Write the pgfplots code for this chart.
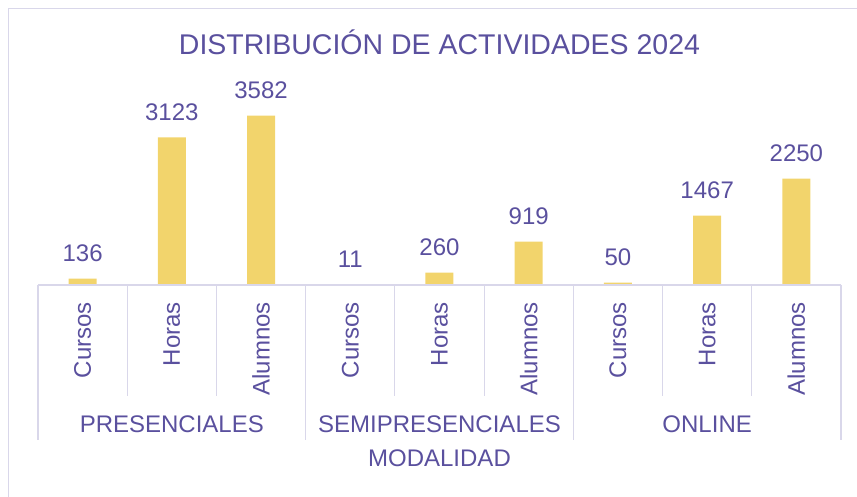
\documentclass[border=0pt]{standalone}
\usepackage{fontspec}
\setmainfont{Liberation Sans}
\usepackage{pgfplots}
\pgfplotsset{compat=1.18}
\usepackage{pgfplotstable}
\definecolor{txt}{RGB}{90,80,158}
\definecolor{barc}{RGB}{242,212,108}
\definecolor{gridc}{RGB}{217,215,234}

\pgfplotstableread{
x y lab
0 136 136
1 3123 3123
2 3582 3582
3 11 11
4 260 260
5 919 919
6 50 50
7 1467 1467
8 2250 2250
}\data

\begin{document}
\begin{tikzpicture}[x=1pt,y=1pt]
\useasboundingbox (0,0) rectangle (857,497);
\draw[gridc, line width=1.5pt] (8.5,0) -- (8.5,488.5) -- (857,488.5);
\node[txt, anchor=base, inner sep=0pt, font=\fontsize{28.5}{34}\selectfont] at (439.5,442) {DISTRIBUCIÓN DE ACTIVIDADES 2024};
\begin{axis}[
  at={(38pt,212pt)}, anchor=south west,
  scale only axis, width=803pt, height=189.2pt,
  xmin=-0.5, xmax=8.5, ymin=0, ymax=4000,
  clip=false,
  axis line style={draw=none},
  ytick=\empty,
  xtick=data,
  xticklabels={Cursos,Horas,Alumnos,Cursos,Horas,Alumnos,Cursos,Horas,Alumnos},
  major tick length=0pt,
  xticklabel style={rotate=90, anchor=east, inner sep=0pt, text=txt, font=\fontsize{24}{28}\selectfont},
  xticklabel shift=17pt,
  ybar, bar width=28pt,
  point meta=explicit symbolic,
  nodes near coords,
  every node near coord/.append style={anchor=base, inner sep=0pt, yshift=17pt, text=txt, font=\fontsize{24}{28}\selectfont},
]
\addplot[fill=barc, draw=none] table[x=x, y=y, meta=lab] {\data};
\draw[gridc, line width=1.5pt] (axis cs:-0.5,0) -- (axis cs:8.5,0);
\pgfplotsinvokeforeach{0.5,1.5,3.5,4.5,6.5,7.5}{
  \draw[gridc, line width=1.2pt] (axis cs:#1,0) -- ++(0pt,-111pt);
}
\pgfplotsinvokeforeach{-0.5,2.5,5.5,8.5}{
  \draw[gridc, line width=1.2pt] (axis cs:#1,0) -- ++(0pt,-155pt);
}
\node[txt, anchor=base, inner sep=0pt, font=\fontsize{24}{28}\selectfont] at ([yshift=-147.7pt]axis cs:1,0) {PRESENCIALES};
\node[txt, anchor=base, inner sep=0pt, font=\fontsize{24}{28}\selectfont] at ([yshift=-147.7pt]axis cs:4,0) {SEMIPRESENCIALES};
\node[txt, anchor=base, inner sep=0pt, font=\fontsize{24}{28}\selectfont] at ([yshift=-147.7pt]axis cs:7,0) {ONLINE};
\node[txt, anchor=base, inner sep=0pt, font=\fontsize{24}{28}\selectfont] at ([yshift=-181.7pt]axis cs:4,0) {MODALIDAD};
\end{axis}
\end{tikzpicture}
\end{document}
